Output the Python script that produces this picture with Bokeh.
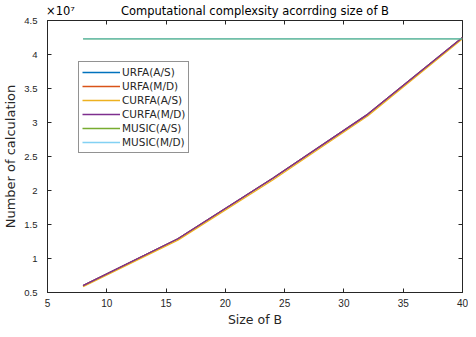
from bokeh.plotting import figure
from bokeh.models import (LinearAxis, Range1d, FixedTicker, CustomJSTickFormatter,
                          Legend, LegendItem)
from bokeh.embed import file_html
from bokeh.resources import INLINE

# ---- data ----
size_b = [8, 16, 24, 32, 40]
urfa_as = [0.60e7, 1.29e7, 2.18e7, 3.12e7, 4.25e7]
urfa_md = [0.60e7, 1.29e7, 2.18e7, 3.12e7, 4.25e7]
curfa_as = [0.585e7, 1.27e7, 2.155e7, 3.095e7, 4.23e7]
curfa_md = [0.60e7, 1.29e7, 2.18e7, 3.12e7, 4.25e7]
music_as = [4.23e7, 4.23e7, 4.23e7, 4.23e7, 4.23e7]
music_md = [4.23e7, 4.23e7, 4.23e7, 4.23e7, 4.23e7]

series_names = ["URFA(A/S)", "URFA(M/D)", "CURFA(A/S)", "CURFA(M/D)", "MUSIC(A/S)", "MUSIC(M/D)"]
series_vals = [urfa_as, urfa_md, curfa_as, curfa_md, music_as, music_md]
colors = ["#0072BD", "#D95319", "#EDB120", "#7E2F8E", "#77AC30", "#4DBEEE"]
alphas = [1, 1, 1, 1, 1, 0.7]

x_ticks = [5, 10, 15, 20, 25, 30, 35, 40]
y_ticks = [0.5e7, 1e7, 1.5e7, 2e7, 2.5e7, 3e7, 3.5e7, 4e7, 4.5e7]

title_text = "Computational complexsity acorrding size of B"
exponent_text = "\u00d710\u2077"

FONT = "DejaVu Sans"
TICKFONT = "Liberation Sans"
TXT = "#262626"
AX = "#262626"

p = figure(width=468, height=329, output_backend="svg", toolbar_location=None,
           x_range=Range1d(5, 40), y_range=Range1d(0.5e7, 4.5e7),
           min_border_left=39, min_border_right=6, min_border_top=15, min_border_bottom=34,
           x_axis_location=None, y_axis_location=None)
p.background_fill_color = "white"
p.border_fill_color = "white"
p.grid.visible = False
p.outline_line_color = AX
p.outline_line_width = 1

fmt = CustomJSTickFormatter(code="var v = tick/1e7; return (Math.round(v*10)/10).toString();")

def style_axis(ax, show_labels=True):
    ax.axis_line_color = AX
    ax.major_tick_in = 4
    ax.major_tick_out = 0
    ax.minor_tick_line_color = None
    ax.major_tick_line_color = AX
    ax.major_label_text_font = TICKFONT
    ax.major_label_text_font_size = "10px"
    ax.major_label_text_color = TXT
    ax.axis_label_text_font = FONT
    ax.axis_label_text_font_style = "normal"
    ax.axis_label_text_color = TXT
    if not show_labels:
        ax.major_label_text_font_size = "0px"
        ax.major_label_standoff = 0
        ax.axis_line_color = None

xb = LinearAxis(ticker=FixedTicker(ticks=x_ticks), axis_label="Size of B")
style_axis(xb)
xb.major_label_standoff = 6
xb.axis_label_standoff = 2
xb.axis_label_text_font_size = "12.5px"
p.add_layout(xb, "below")

yl = LinearAxis(ticker=FixedTicker(ticks=y_ticks), formatter=fmt, axis_label="Number of calculation")
style_axis(yl)
yl.major_label_text_font_size = "9.5px"
yl.major_label_standoff = 10
yl.axis_label_standoff = 3
yl.axis_label_text_font_size = "13px"
p.add_layout(yl, "left")

xt = LinearAxis(ticker=FixedTicker(ticks=x_ticks))
style_axis(xt, show_labels=False)
p.add_layout(xt, "above")

yr = LinearAxis(ticker=FixedTicker(ticks=y_ticks))
style_axis(yr, show_labels=False)
p.add_layout(yr, "right")

# top text row: exponent marker at the left end and the title in the middle
EXP_X, TITLE_X = 6.1, 22.5
xtitle = LinearAxis(ticker=FixedTicker(ticks=[EXP_X, TITLE_X]),
                    major_label_overrides={EXP_X: exponent_text, TITLE_X: title_text})
xtitle.axis_line_color = None
xtitle.major_tick_line_color = None
xtitle.minor_tick_line_color = None
xtitle.major_tick_in = 0
xtitle.major_tick_out = 0
xtitle.major_label_standoff = 3
xtitle.major_label_text_font = FONT
xtitle.major_label_text_font_size = "11.5px"
xtitle.major_label_text_color = "#000000"
p.add_layout(xtitle, "above")

renderers = []
for name, vals, c, a in zip(series_names, series_vals, colors, alphas):
    r = p.line(size_b, vals, line_color=c, line_width=1.3, line_alpha=a)
    renderers.append((name, r))

legend = Legend(items=[LegendItem(label=n, renderers=[r]) for n, r in renderers],
                location=(31, 139))
legend.margin = 0
legend.padding = 3
legend.spacing = 0
legend.border_line_color = AX
legend.border_line_width = 1
legend.label_text_font = FONT
legend.label_text_font_size = "10.5px"
legend.label_text_color = TXT
legend.label_height = 14
legend.glyph_height = 14
legend.glyph_width = 38
legend.label_standoff = 2
legend.background_fill_alpha = 1
p.add_layout(legend, "center")

open("out.html", "w").write(file_html(p, INLINE))
